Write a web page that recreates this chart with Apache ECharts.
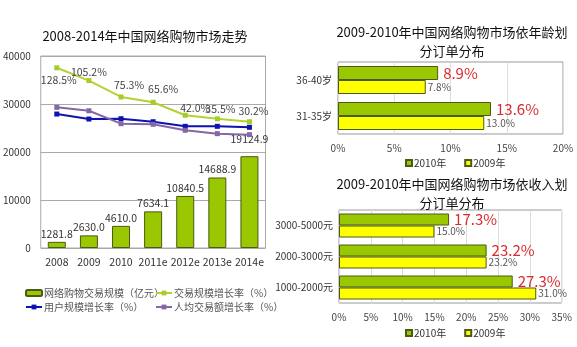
<!DOCTYPE html>
<html><head><meta charset="utf-8">
<script src="https://cdn.jsdelivr.net/npm/echarts@6/dist/echarts.min.js"></script>
<style>html,body{margin:0;padding:0;background:#fff}#c{width:577px;height:347px}</style>
</head><body><div id="c"></div>
<script>
// ---- data ----
const years = ['2008','2009','2010','2011e','2012e','2013e','2014e'];
const tradeScale = [1281.8, 2630.0, 4610.0, 7634.1, 10840.5, 14688.9, 19124.9];
const tradeGrowth = [128.5, 105.2, 75.3, 65.6, 42.0, 35.5, 30.2];
const userGrowth = [44.2, 35.1, 35.7, 30.2, 21.8, 21.8, 20.0];
const perCapitaGrowth = [56.4, 50.2, 26.6, 25.5, 14.6, 8.4, 6.6];

const ageCats = ['36-40岁', '31-35岁'];
const age2010 = [8.9, 13.6];
const age2009 = [7.8, 13.0];

const incomeCats = ['3000-5000元', '2000-3000元', '1000-2000元'];
const income2010 = [17.3, 23.2, 27.3];
const income2009 = [15.0, 23.2, 31.0];

// ---- styles ----
const FONT = "'Noto Sans CJK SC', 'Noto Sans', sans-serif";
const GREEN = '#99c800', YELLOW = '#ffff00', BORDER = '#4b5a14', RED = '#d92b2f';
const greenLabelPos = ['bottom','top','top','top','top','top','top'];
const greenLabelOff = [[2,0],[0,3],[8,0],[10,-2],[10,5],[3,2],[4,1]];
const barLabelOff = [[0,0],[0,0],[0,0],[0,0],[0,0],[0,0],[0,-9]];

const chart = echarts.init(document.getElementById('c'), null, {renderer:'canvas'});

function hbarSeries(name, data, color, xi, big, bw) {
  return {
    name, type:'bar', xAxisIndex:xi, yAxisIndex:xi, data, barWidth:bw, barGap:'0%',
    itemStyle:{color, borderColor:BORDER, borderWidth:1},
    label:{show:true, position:'right', distance: big?5:2,
      formatter:p=>p.value.toFixed(1)+'%',
      color: big?RED:'#555', fontSize: big?15:10, fontFamily:FONT},
    emphasis:{disabled:true}, animation:false
  };
}

const option = {
  animation:false,
  textStyle:{fontFamily:FONT},
  title:[
    {text:'2008-2014年中国网络购物市场走势', left:140, top:25, textAlign:'center',
     textStyle:{fontSize:13, fontWeight:'normal', color:'#111', fontFamily:FONT}},
    {text:'2009-2010年中国网络购物市场依年龄划\n分订单分布', left:447, top:18, textAlign:'center',
     textStyle:{fontSize:13, fontWeight:'normal', color:'#111', lineHeight:19, fontFamily:FONT}},
    {text:'2009-2010年中国网络购物市场依收入划\n分订单分布', left:447, top:170, textAlign:'center',
     textStyle:{fontSize:13, fontWeight:'normal', color:'#111', lineHeight:19, fontFamily:FONT}}
  ],
  legend:[
    {left:20, top:283, orient:'vertical', itemGap:4, itemWidth:16, itemHeight:6,
     data:['网络购物交易规模（亿元）','用户规模增长率（%）'],
     textStyle:{fontSize:10, color:'#555', padding:[0,0,0,-3]}},
    {left:150, top:283, orient:'vertical', itemGap:4, itemWidth:16, itemHeight:6,
     data:['交易规模增长率（%）','人均交易额增长率（%）'],
     textStyle:{fontSize:10, color:'#555', padding:[0,0,0,-3]}},
    {left:400, top:153, itemGap:18, itemWidth:6, itemHeight:6, icon:'rect',
     data:['2010年','2009年'], textStyle:{fontSize:10, color:'#333', padding:[0,0,0,-3]}},
    {left:400, top:323, itemGap:18, itemWidth:6, itemHeight:6, icon:'rect',
     data:['2010年','2009年'], textStyle:{fontSize:10, color:'#333', padding:[0,0,0,-3]}}
  ],
  grid:[
    {left:39, top:56, width:226.5, height:192, show:true, borderColor:'#aaa', borderWidth:1, backgroundColor:'transparent'},
    {left:338, top:62, width:225, height:72, show:true, borderColor:'#999', borderWidth:1, backgroundColor:'transparent'},
    {left:339, top:210, width:222.7, height:93, show:true, borderColor:'#999', borderWidth:1, backgroundColor:'transparent'}
  ],
  xAxis:[
    {gridIndex:0, type:'category', data:years, axisTick:{show:false},
     axisLine:{show:false}, axisLabel:{interval:0, fontSize:10.5, color:'#333', margin:9}},
    {gridIndex:1, type:'value', min:0, max:20, interval:5, axisLine:{show:false}, axisTick:{show:false},
     splitLine:{lineStyle:{color:'#ddd'}}, axisLabel:{formatter:'{value}%', fontSize:10, color:'#444', margin:9}},
    {gridIndex:2, type:'value', min:0, max:35, interval:5, axisLine:{show:false}, axisTick:{show:false},
     splitLine:{lineStyle:{color:'#ddd'}}, axisLabel:{formatter:'{value}%', fontSize:10, color:'#444', margin:9}}
  ],
  yAxis:[
    {gridIndex:0, type:'value', min:0, max:40000, interval:10000, axisLine:{show:false}, axisTick:{show:false},
     splitLine:{lineStyle:{color:'#aaa'}}, axisLabel:{formatter:v=>String(v), fontSize:10, color:'#333', margin:10}},
    {gridIndex:1, type:'category', data:ageCats, inverse:true, axisLine:{show:false}, axisTick:{show:false},
     axisLabel:{fontSize:10, color:'#333', margin:6}},
    {gridIndex:2, type:'category', data:incomeCats, inverse:true, axisLine:{show:false}, axisTick:{show:false},
     axisLabel:{fontSize:10, color:'#333', margin:6}},
    {gridIndex:0, type:'value', min:-200, max:150, show:false, splitLine:{show:false}}
  ],
  series:[
    {name:'网络购物交易规模（亿元）', type:'bar', xAxisIndex:0, yAxisIndex:0, barWidth:18,
     data: tradeScale.map((v,i)=>({value:v, label:{offset:barLabelOff[i]}})),
     itemStyle:{color:GREEN, borderColor:BORDER, borderWidth:1},
     label:{show:true, position:'top', distance:3, formatter:p=>p.value.toFixed(1), fontSize:10.5, color:'#333'}},
    {name:'交易规模增长率（%）', type:'line', xAxisIndex:0, yAxisIndex:3,
     data: tradeGrowth.map((v,i)=>({value:v, label:{position:greenLabelPos[i], offset:greenLabelOff[i]}})),
     symbol:'rect', symbolSize:5, lineStyle:{color:'#b4d232', width:2}, itemStyle:{color:'#a6cc2a'},
     label:{show:true, formatter:p=>p.value.toFixed(1)+'%', fontSize:10.5, color:'#444', distance:4}},
    {name:'用户规模增长率（%）', type:'line', xAxisIndex:0, yAxisIndex:3, data:userGrowth,
     symbol:'rect', symbolSize:5, lineStyle:{color:'#0d12b0', width:2}, itemStyle:{color:'#0d12b0'}},
    {name:'人均交易额增长率（%）', type:'line', xAxisIndex:0, yAxisIndex:3, data:perCapitaGrowth,
     symbol:'rect', symbolSize:5, lineStyle:{color:'#8468a6', width:2}, itemStyle:{color:'#8468a6'}},
    hbarSeries('2010年', age2010, GREEN, 1, true, 14),
    hbarSeries('2009年', age2009, YELLOW, 1, false, 14),
    hbarSeries('2010年', income2010, GREEN, 2, true, 12),
    hbarSeries('2009年', income2009, YELLOW, 2, false, 12)
  ]
};
chart.setOption(option);
</script></body></html>
